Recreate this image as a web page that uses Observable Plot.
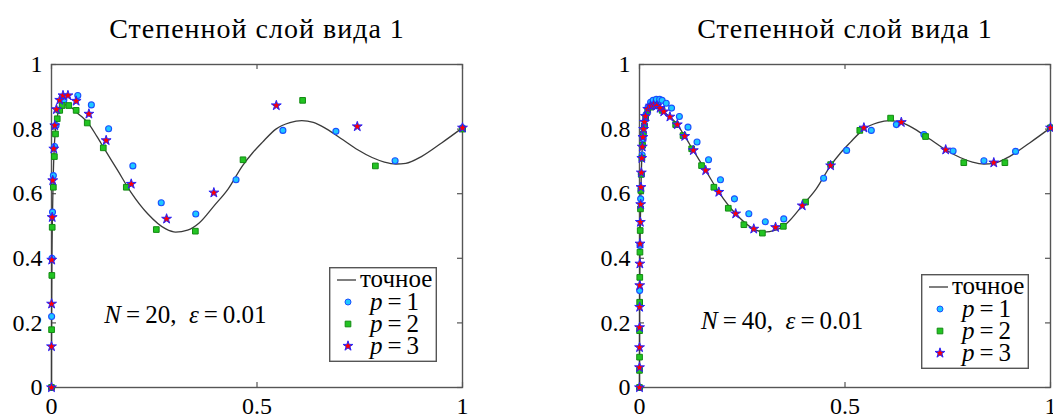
<!DOCTYPE html>
<html><head><meta charset="utf-8">
<script src="https://cdn.jsdelivr.net/npm/d3@7"></script>
<script src="https://cdn.jsdelivr.net/npm/@observablehq/plot@0.6"></script>
<style>
body{margin:0;background:#fff;}
#wrap{position:relative;width:1053px;height:418px;overflow:hidden;font-family:"Liberation Serif",serif;}
#wrap > svg{position:absolute;top:0;}
</style></head><body><div id="wrap"></div>
<script>
const titleText = "Степенной слой вида 1";
const xTicks = [0, 0.5, 1];
const yTicks = [0, 0.2, 0.4, 0.6, 0.8, 1];
const legendLabels = ["точное", "p=1", "p=2", "p=3"];

// exact solution
const exactX = [0, 0.0001, 0.0004, 0.001, 0.0023, 0.004, 0.0065, 0.01, 0.015, 0.02, 0.027, 0.034, 0.042, 0.05, 0.059, 0.074, 0.092, 0.11, 0.131, 0.161, 0.193, 0.234, 0.278, 0.302, 0.331, 0.36, 0.396, 0.43, 0.465, 0.489, 0.513, 0.546, 0.58, 0.609, 0.637, 0.67, 0.71, 0.745, 0.78, 0.81, 0.838, 0.862, 0.9, 0.95, 1.0];
const exactY = [0, 0.127, 0.259, 0.395, 0.527, 0.641, 0.739, 0.800, 0.845, 0.862, 0.872, 0.875, 0.872, 0.865, 0.854, 0.838, 0.814, 0.778, 0.734, 0.672, 0.605, 0.538, 0.491, 0.481, 0.487, 0.51, 0.563, 0.615, 0.687, 0.726, 0.759, 0.800, 0.820, 0.826, 0.821, 0.800, 0.766, 0.736, 0.712, 0.698, 0.692, 0.694, 0.715, 0.758, 0.804];

// N = 20
const p1x_20 = [0, 0.0003, 0.0012, 0.0025, 0.0045, 0.0075, 0.011, 0.018, 0.030, 0.064, 0.097, 0.139, 0.198, 0.267, 0.351, 0.449, 0.563, 0.692, 0.836, 1.0];
const p1y_20 = [0, 0.22, 0.40, 0.543, 0.656, 0.746, 0.811, 0.858, 0.890, 0.904, 0.875, 0.801, 0.686, 0.572, 0.537, 0.643, 0.796, 0.793, 0.702, 0.804];
const p2x_20 = [0, 0.0002, 0.0008, 0.0017, 0.0045, 0.007, 0.0097, 0.014, 0.020, 0.026, 0.042, 0.060, 0.087, 0.126, 0.182, 0.255, 0.350, 0.466, 0.611, 0.788, 1.0];
const p2y_20 = [0, 0.179, 0.347, 0.496, 0.620, 0.715, 0.785, 0.832, 0.858, 0.873, 0.873, 0.858, 0.819, 0.742, 0.620, 0.489, 0.484, 0.705, 0.889, 0.686, 0.80];
const p3x_20 = [0, 0.00005, 0.0002, 0.0006, 0.0017, 0.003, 0.0056, 0.008, 0.012, 0.020, 0.028, 0.040, 0.060, 0.091, 0.133, 0.194, 0.280, 0.395, 0.547, 0.744, 1.0];
const p3y_20 = [0, 0.127, 0.259, 0.395, 0.527, 0.641, 0.739, 0.811, 0.861, 0.890, 0.904, 0.904, 0.887, 0.847, 0.765, 0.630, 0.522, 0.603, 0.873, 0.808, 0.804];

// N = 40
const p1x_40 = [0, 0.0004, 0.0012, 0.0028, 0.0045, 0.0065, 0.009, 0.012, 0.016, 0.021, 0.027, 0.033, 0.041, 0.049, 0.055, 0.065, 0.078, 0.097, 0.118, 0.140, 0.168, 0.197, 0.231, 0.266, 0.306, 0.351, 0.448, 0.504, 0.564, 0.625, 0.692, 0.763, 0.838, 0.915, 1.0];
const p1y_40 = [0, 0.30, 0.44, 0.584, 0.66, 0.72, 0.77, 0.81, 0.845, 0.868, 0.883, 0.889, 0.892, 0.892, 0.889, 0.880, 0.865, 0.839, 0.806, 0.760, 0.705, 0.643, 0.584, 0.538, 0.513, 0.522, 0.648, 0.734, 0.796, 0.814, 0.783, 0.732, 0.702, 0.731, 0.804];
const p2x_40 = [0, 0.00003, 0.0001, 0.0002, 0.0004, 0.0007, 0.0011, 0.0017, 0.0024, 0.0032, 0.0043, 0.0058, 0.0075, 0.0095, 0.012, 0.015, 0.020, 0.027, 0.039, 0.055, 0.088, 0.106, 0.127, 0.151, 0.181, 0.216, 0.254, 0.299, 0.350, 0.404, 0.465, 0.536, 0.611, 0.696, 0.789, 0.889, 1.0];
const p2y_40 = [0, 0.053, 0.094, 0.176, 0.264, 0.341, 0.419, 0.486, 0.553, 0.61, 0.66, 0.71, 0.75, 0.785, 0.81, 0.835, 0.858, 0.868, 0.873, 0.858, 0.814, 0.780, 0.739, 0.687, 0.620, 0.555, 0.504, 0.478, 0.499, 0.574, 0.69, 0.796, 0.834, 0.777, 0.696, 0.696, 0.804];
const p3x_40 = [0, 0.00005, 0.0001, 0.0002, 0.00037, 0.0006, 0.0009, 0.0014, 0.0021, 0.0029, 0.0036, 0.0045, 0.0056, 0.0068, 0.0083, 0.01, 0.012, 0.0145, 0.020, 0.027, 0.034, 0.042, 0.050, 0.059, 0.074, 0.092, 0.110, 0.131, 0.161, 0.193, 0.234, 0.278, 0.331, 0.396, 0.465, 0.546, 0.637, 0.745, 0.862, 1.0];
const p3y_40 = [0, 0.062, 0.124, 0.186, 0.249, 0.316, 0.383, 0.445, 0.512, 0.567, 0.62, 0.665, 0.71, 0.745, 0.775, 0.80, 0.822, 0.84, 0.862, 0.872, 0.875, 0.872, 0.865, 0.854, 0.838, 0.814, 0.778, 0.734, 0.672, 0.605, 0.538, 0.491, 0.496, 0.563, 0.687, 0.804, 0.821, 0.736, 0.696, 0.804];

const annotN = [20, 40];
const annotEps = "0.01";
const annotX = [0.326, 0.347];
const annotY = [0.223, 0.207];

const FONT = "Liberation Serif";
const style1 = {fill: "#1ec8ff", stroke: "#1a50ff"};
const style2 = {fill: "#22c422", stroke: "#138a13"};
const style3 = {fill: "#ff0000", stroke: "#2424ff"};

const zip = (xs, ys) => xs.map((x, i) => ({x, y: ys[i]}));
const exact = zip(exactX, exactY);

const panels = [
  {left: 0, width: 527, ml: 51, mr: 65, p1: zip(p1x_20, p1y_20), p2: zip(p2x_20, p2y_20), p3: zip(p3x_20, p3y_20), k: 0, leg: {x: 329, y: 267}},
  {left: 527, width: 526, ml: 112, mr: 3, p1: zip(p1x_40, p1y_40), p2: zip(p2x_40, p2y_40), p3: zip(p3x_40, p3y_40), k: 1, leg: {x: 394, y: 274}}
];

const H = 418, MT = 64, MB = 31;
const wrap = document.getElementById("wrap");

for (const P of panels) {
  const innerH = H - MT - MB;
  const innerW = P.width - P.ml - P.mr;
  const annLabel = `N=${annotN[P.k]}, ε=${annotEps}`;
  const svg = Plot.plot({
    width: P.width, height: H,
    marginTop: MT, marginBottom: MB, marginLeft: P.ml, marginRight: P.mr,
    x: {domain: [0, 1], label: null},
    y: {domain: [0, 1], label: null},
    style: {fontFamily: FONT, fontSize: "24px", background: "white", color: "black", overflow: "visible"},
    marks: [
      Plot.tickX(xTicks, {x: d => d, insetTop: innerH - 5, stroke: "#555", strokeWidth: 1.2}),
      Plot.tickX(xTicks, {x: d => d, insetBottom: innerH - 5, stroke: "#555", strokeWidth: 1.2}),
      Plot.tickY(yTicks, {y: d => d, insetRight: innerW - 5, stroke: "#555", strokeWidth: 1.2}),
      Plot.tickY(yTicks, {y: d => d, insetLeft: innerW - 5, stroke: "#555", strokeWidth: 1.2}),
      Plot.frame({stroke: "#555", strokeWidth: 1.4}),
      Plot.axisX(xTicks, {tickSize: 0, tickPadding: 9, tickFormat: d => String(d), fontSize: 24}),
      Plot.axisY(yTicks, {tickSize: 0, tickPadding: 9, tickFormat: d => String(d), fontSize: 24}),
      Plot.line(exact, {x: "x", y: "y", stroke: "#3a3a3a", strokeWidth: 1.3, curve: "monotone-x"}),
      Plot.dot(P.p1, {x: "x", y: "y", symbol: "circle", r: 3, ...style1, strokeWidth: 1.1}),
      Plot.dot(P.p2, {x: "x", y: "y", symbol: "square", r: 3.2, ...style2, strokeWidth: 1}),
      Plot.dot(P.p3, {x: "x", y: "y", symbol: "star", r: 3.1, ...style3, strokeWidth: 1}),
      Plot.text([titleText], {frameAnchor: "top", dy: -46, text: d => d, fontSize: 28}),
      Plot.text([annLabel], {x: () => annotX[P.k], y: () => annotY[P.k], text: d => d, fontSize: 25})
    ]
  });
  svg.style.left = P.left + "px";
  wrap.appendChild(svg);

  // title letter spacing (Computer Modern is wider than Liberation Serif)
  d3.select(svg).selectAll("text").filter(function() { return this.textContent === titleText; })
    .style("letter-spacing", "1px");

  // math-style annotation: italic N and ε
  d3.select(svg).selectAll("text").filter(function() { return this.textContent === annLabel; })
    .each(function() {
      const t = d3.select(this);
      t.text(null).style("white-space", "pre");
      t.append("tspan").attr("font-style", "italic").text("N");
      t.append("tspan").text("\u2009=\u2009" + annotN[P.k] + ",  ");
      t.append("tspan").attr("font-style", "italic").text("ε");
      t.append("tspan").text("\u2009=\u2009" + annotEps);
    });

  // legend box
  const lw = 108, lh = 95;
  const leg = d3.select(wrap).append("svg")
    .attr("width", lw).attr("height", lh)
    .style("position", "absolute").style("left", (P.left + P.leg.x) + "px").style("top", P.leg.y + "px")
    .style("overflow", "visible")
    .style("font-family", FONT).style("font-size", "25px");
  leg.append("rect").attr("x", 0.7).attr("y", 0.7).attr("width", lw - 1.4).attr("height", lh - 1.4)
    .attr("fill", "white").attr("stroke", "#555").attr("stroke-width", 1.4);
  const rowsC = [13, 35, 57, 79];
  const rowsB = [20, 43, 65, 87];
  leg.append("line").attr("x1", 8).attr("x2", 27).attr("y1", rowsC[0]).attr("y2", rowsC[0]).attr("stroke", "#3a3a3a").attr("stroke-width", 1.3);
  leg.append("text").attr("x", 31).attr("y", rowsB[0]).text(legendLabels[0]);
  const syms = [[d3.symbolCircle, 3, style1], [d3.symbolSquare, 3.2, style2], [d3.symbolStar, 3.1, style3]];
  syms.forEach(([s, r, st], i) => {
    leg.append("path").attr("d", d3.symbol(s, Math.PI * r * r)())
      .attr("transform", `translate(19,${rowsC[i + 1]})`)
      .attr("fill", st.fill).attr("stroke", st.stroke).attr("stroke-width", 1);
    const [pv, rest] = legendLabels[i + 1].split("=");
    const t = leg.append("text").attr("x", 41).attr("y", rowsB[i + 1]).style("white-space", "pre");
    t.append("tspan").attr("font-style", "italic").text(pv);
    t.append("tspan").text("\u2009=\u2009" + rest);
  });
}
</script></body></html>
